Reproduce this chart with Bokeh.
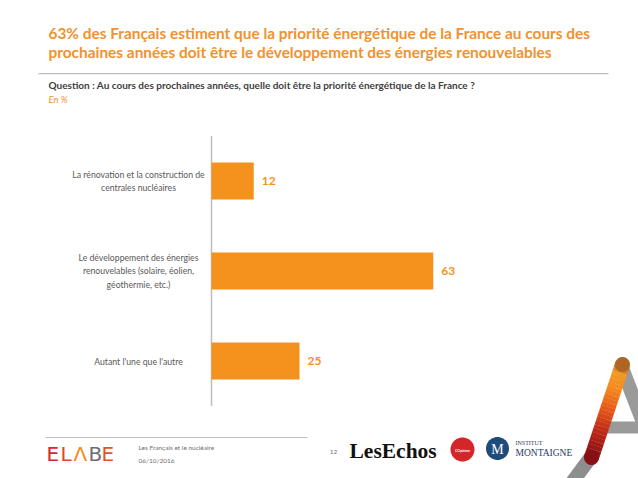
import math
from bokeh.plotting import figure
from bokeh.models import Range1d, Label, PolyAnnotation, ColumnDataSource
from bokeh.core.properties import value
from bokeh.embed import file_html
from bokeh.resources import INLINE

# ---- data ----
categories = [
    "La rénovation et la construction de\ncentrales nucléaires",
    "Le développement des énergies\nrenouvelables (solaire, éolien,\ngéothermie, etc.)",
    "Autant l'une que l'autre",
]
values = [12, 63, 25]
positions = [2, 1, 0]

title_lines = [
    "63% des Français estiment que la priorité énergétique de la France au cours des",
    "prochaines années doit être le développement des énergies renouvelables",
]
question = "Question : Au cours des prochaines années, quelle doit être la priorité énergétique de la France ?"
unit_note = "En  %"
footer_lines = ["Les Français et le nucléaire", "06/10/2016"]
page_number = "12"

ORANGE = "#F5921E"
TITLE_ORANGE = "#F0922F"
FONT = "Lato"

W, H = 638, 478
# the frame covers the whole page; the data ranges place the bar area
X0_PX, PX_PER_UNIT = 211, 3.52
Y0_PX, PX_PER_ROW = 360.5, 90

p = figure(width=W, height=H, output_backend="svg", toolbar_location=None,
           x_range=Range1d(-X0_PX / PX_PER_UNIT, (W - X0_PX) / PX_PER_UNIT),
           y_range=Range1d(-(H - Y0_PX) / PX_PER_ROW, Y0_PX / PX_PER_ROW),
           min_border=0)
p.xaxis.visible = False
p.yaxis.visible = False
p.grid.visible = False
p.outline_line_color = None
p.background_fill_color = "white"
p.border_fill_color = "white"


def sx(px):
    return px


def sy(py):
    return H - py


# axis line
p.segment(x0=[0], y0=[-0.5], x1=[0], y1=[2.5], line_color="#BDBDBD", line_width=1.5)

src = ColumnDataSource(dict(y=positions, v=values, t=[str(v) for v in values], c=categories))
p.hbar(y="y", right="v", left=0, height=0.41, source=src, fill_color=ORANGE, line_color=None)
p.text(x="v", y="y", text="t", source=src, x_offset=8, text_baseline="middle",
       text_align="left", text_color=ORANGE, text_font=value(FONT),
       text_font_style="bold", text_font_size="12px")
# category labels, centred in the left margin
p.text(x=-73 / PX_PER_UNIT, y="y", text="c", source=src, text_baseline="middle",
       text_align="center", text_color="#595959", text_font=value(FONT),
       text_font_size="8.7px", text_line_height=1.22)


def poly(pts, color, alpha=1.0):
    p.add_layout(PolyAnnotation(xs=[sx(a) for a, b in pts], ys=[sy(b) for a, b in pts],
                                xs_units="screen", ys_units="screen",
                                fill_color=color, fill_alpha=alpha, line_color=None))


def stroke(x0, y0, x1, y1, w, color, alpha=1.0):
    dx, dy = x1 - x0, y1 - y0
    L = math.hypot(dx, dy)
    nx, ny = -dy / L * w / 2, dx / L * w / 2
    poly([(x0 + nx, y0 + ny), (x1 + nx, y1 + ny), (x1 - nx, y1 - ny), (x0 - nx, y0 - ny)], color, alpha)


def circle(cx, cy, r, color):
    pts = [(cx + r * math.cos(2 * math.pi * k / 48), cy + r * math.sin(2 * math.pi * k / 48)) for k in range(48)]
    poly(pts, color)


def label(px, py, text, size, color="#595959", style="normal", align="left", font=FONT, baseline="middle"):
    p.add_layout(Label(x=sx(px), y=sy(py), x_units="screen", y_units="screen", text=text,
                       text_font=font, text_font_size=size, text_color=color,
                       text_font_style=style, text_align=align, text_baseline=baseline))


# titles
label(48, 32, title_lines[0], "15.4px", TITLE_ORANGE, "bold")
label(48, 51, title_lines[1], "15.4px", TITLE_ORANGE, "bold")
poly([(38, 72.5), (608, 72.5), (608, 73.7), (38, 73.7)], "#BFBFBF")
label(48, 84, question, "10px", "#404040", "bold")
label(48, 99, unit_note, "9.5px", TITLE_ORANGE, "italic")

# footer
poly([(45, 436.5), (307, 436.5), (307, 437.5), (45, 437.5)], "#BFBFBF")
label(138, 447, footer_lines[0], "6.5px", "#707070")
label(138, 460, footer_lines[1], "6.5px", "#707070")
label(333, 451, page_number, "6.5px", "#707070", align="center")

# ELABE logo
elabe = [("E", "#D9262B", 46), ("L", "#E2451F", 60), ("Λ", "#F08A1C", 73), ("B", "#6D6E71", 88), ("E", "#E4521E", 101)]
for ch, col, x in elabe:
    label(x, 453, ch, "20px", col, "normal", font="DejaVu Sans")

# Les Echos
label(349, 450, "LesEchos", "21.5px", "#111111", "bold", font="Liberation Serif")
circle(462, 449, 12, "#D4252B")
label(462, 450, "L'Opinion", "3.5px", "white", "bold", align="center")
circle(497, 448, 11.5, "#1F4B7A")
label(497, 449, "M", "14px", "white", "normal", align="center", font="Liberation Serif")
label(515, 442, "INSTITUT", "6px", "#1F3A5F", font="Liberation Serif")
label(515, 452, "MONTAIGNE", "9.5px", "#1F3A5F", font="Liberation Serif")

# "A" decoration
stroke(593, 453, 570, 484, 14, "#8E8E8E")
stroke(621, 366, 648, 436, 14, "#9A9A9A")
poly([(603, 421), (638, 421), (638, 433), (603, 433)], "#9A9A9A")
stops = [(0.0, (0x86, 0x10, 0x16)), (0.25, (0xB8, 0x24, 0x18)), (0.5, (0xE6, 0x55, 0x1B)),
         (0.75, (0xF5, 0x8B, 0x1E)), (0.9, (0xF2, 0x9A, 0x25)), (1.0, (0xB0, 0x66, 0x22))]


def grad_color(t):
    for (t0, c0), (t1, c1) in zip(stops[:-1], stops[1:]):
        if t0 <= t <= t1:
            f = (t - t0) / (t1 - t0)
            return "#%02x%02x%02x" % tuple(int(a + (b - a) * f) for a, b in zip(c0, c1))
    return "#%02x%02x%02x" % stops[-1][1]


x0, y0, x1, y1 = 591, 457, 622, 364
n = 24
for i in range(n):
    a0, a1 = i / n, (i + 1.05) / n
    stroke(x0 + (x1 - x0) * a0, y0 + (y1 - y0) * a0, x0 + (x1 - x0) * a1, y0 + (y1 - y0) * a1,
           15, grad_color((i + 0.5) / n))
circle(x1, y1, 7.5, grad_color(1.0))
circle(x0, y0, 7.5, grad_color(0.0))

open("out.html", "w").write(file_html(p, INLINE))
